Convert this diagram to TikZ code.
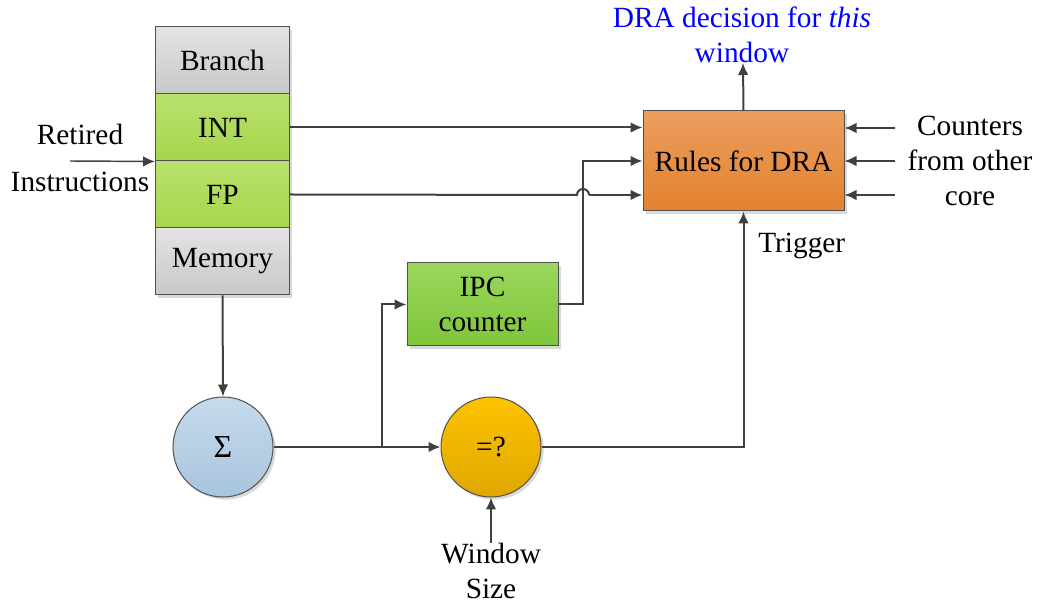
\documentclass[tikz,border=0pt]{standalone}
\usepackage{fontspec}
\setmainfont{Liberation Serif}
\usetikzlibrary{arrows.meta,shadows,calc}

\definecolor{linecol}{HTML}{404040}
\definecolor{edgecol}{HTML}{505050}
\definecolor{grayTop}{HTML}{E3E3E3}
\definecolor{grayBot}{HTML}{C8C8C8}
\definecolor{limeTop}{HTML}{B9E16C}
\definecolor{limeBot}{HTML}{A6D64C}
\definecolor{orTop}{HTML}{EC9E5E}
\definecolor{orBot}{HTML}{E3822F}
\definecolor{ipcTop}{HTML}{9AD65C}
\definecolor{ipcBot}{HTML}{7FC63B}
\definecolor{blueTop}{HTML}{C6DAEB}
\definecolor{blueBot}{HTML}{A8C5DE}
\definecolor{ambTop}{HTML}{FDC300}
\definecolor{ambBot}{HTML}{DFA700}

\tikzset{
  base/.style={draw=edgecol, line width=0.75pt, inner sep=0pt,
    drop shadow={shadow xshift=2pt, shadow yshift=-2pt, opacity=0.25, fill=black!60}},
  stackbox/.style={base, rectangle, minimum width=100.5pt, minimum height=50.25pt},
  grayfill/.style={top color=grayTop, bottom color=grayBot},
  limefill/.style={top color=limeTop, bottom color=limeBot},
  rulebox/.style={base, rectangle, minimum width=150.75pt, minimum height=75pt,
    top color=orTop, bottom color=orBot},
  ipcbox/.style={base, rectangle, minimum width=113.25pt, minimum height=62.25pt,
    top color=ipcTop, bottom color=ipcBot, align=center},
  opcircle/.style={base, circle, minimum size=75pt},
  label/.style={align=center, inner sep=0pt},
  conn/.style={draw=linecol, line width=1.5pt, -{Latex[length=9pt,width=8pt]}},
  plain/.style={draw=linecol, line width=1.5pt},
}

\begin{document}
\begin{tikzpicture}[x=0.75pt, y=-0.75pt, font=\fontsize{22}{26.4}\selectfont]
\useasboundingbox (0,0) rectangle (1040,605);

% instruction-class stack
\node[stackbox, grayfill] (branch) at (222.5,60.5)  {Branch};
\node[stackbox, limefill] (int)    at (222.5,127.5) {INT};
\node[stackbox, limefill] (fp)     at (222.5,194.5) {FP};
\node[stackbox, grayfill] (mem)    at (222.5,261.5) {\raisebox{-2pt}{Memory}};

% processing blocks
\node[rulebox] (rules) at (743.5,161) {Rules for DRA};
\node[ipcbox]  (ipc)   at (482.5,304.5) {IPC\\counter};
\node[opcircle, top color=blueTop, bottom color=blueBot] (sum) at (223,447) {\fontsize{24}{28}\selectfont Σ};
\node[opcircle, top color=ambTop, bottom color=ambBot]   (eq)  at (491,447) {=?};

% labels
\node[label] (retired) at (80,158) {Retired\\[9pt]Instructions};
\node[label] (counters) at (970,161) {Counters\\from other\\core};
\node[label, text=blue] (decision) at (742,35) {DRA decision for \textit{this}\\window};
\node[label, anchor=west] (trigger) at (758,246) {Trigger};
\node[label, anchor=north] (wsize) at (491,543) {Window\\Size};

% helper points
\coordinate (rin) at (70,161);
\coordinate (dout) at (743,63);
\coordinate (junc) at (382,447);
\coordinate (hop) at (583,195);

% connectors
\draw[conn, line width=1.1pt] (rin) -- (int.south west);
\draw[conn] (int.east) -- (int.east -| rules.west);
\draw[plain] (fp.east) -- ($(hop)+(-6,0)$)
  arc[start angle=180, end angle=0, radius=4.5pt];
\draw[conn] ($(hop)+(6,0)$) -- (hop -| rules.west);
\draw[conn] (ipc.east) -| (583,161) -- (rules.west);
\draw[conn] (mem.south) -- (sum.north);
\draw[conn] (sum.east) -- (eq.west);
\draw[conn] (junc) |- (ipc.west);
\draw[conn] (eq.east) -| (rules.south);
\draw[conn] (rules.north) -- (dout);
\draw[conn] (wsize.north) -- (eq.south);

% inputs from the other core
\foreach \yy/\nm in {128/ca, 161/cb, 195/cc} {
  \coordinate (\nm) at (895,\yy);
  \draw[conn] (\nm) -- (\nm -| rules.east);
}
\end{tikzpicture}
\end{document}
